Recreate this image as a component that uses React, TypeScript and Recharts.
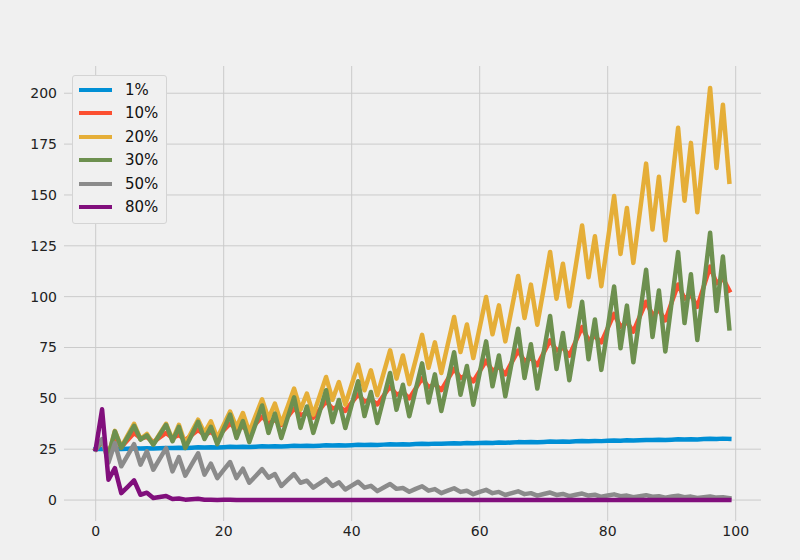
import { LineChart, Line, XAxis, YAxis, CartesianGrid } from "recharts";

// one value per step 0..99
const rate1 = [
  25.0, 25.17, 25.06, 25.23, 25.12, 25.24, 25.41, 25.3, 25.47, 25.36,
  25.48, 25.65, 25.54, 25.71, 25.6, 25.73, 25.9, 25.79, 25.96, 25.85,
  25.98, 26.15, 26.04, 26.21, 26.1, 26.23, 26.4, 26.29, 26.46, 26.35,
  26.48, 26.65, 26.54, 26.71, 26.6, 26.74, 26.91, 26.8, 26.97, 26.86,
  26.99, 27.16, 27.05, 27.22, 27.11, 27.25, 27.42, 27.31, 27.48, 27.37,
  27.51, 27.68, 27.57, 27.74, 27.63, 27.78, 27.95, 27.84, 28.01, 27.9,
  28.04, 28.21, 28.1, 28.27, 28.16, 28.31, 28.48, 28.37, 28.54, 28.43,
  28.58, 28.75, 28.64, 28.81, 28.7, 28.85, 29.02, 28.91, 29.08, 28.97,
  29.13, 29.3, 29.19, 29.36, 29.25, 29.41, 29.58, 29.47, 29.64, 29.53,
  29.69, 29.86, 29.75, 29.92, 29.81, 29.97, 30.14, 30.03, 30.2, 30.09,
];

const rate10 = [
  25.0, 28.5, 23.0, 31.0, 26.0, 29.5, 33.0, 30.5, 31.0, 28.5,
  30.8, 33.0, 30.5, 32.0, 29.5, 32.0, 34.5, 32.0, 33.5, 31.0,
  34.3, 37.5, 35.0, 36.0, 34.0, 37.5, 41.0, 38.0, 39.3, 37.0,
  41.0, 45.0, 41.8, 42.8, 40.5, 44.5, 48.5, 45.0, 46.0, 43.8,
  47.9, 52.0, 48.4, 49.5, 47.0, 51.4, 55.8, 51.8, 53.0, 50.0,
  54.9, 59.8, 55.5, 57.0, 54.0, 59.3, 64.5, 60.0, 61.5, 58.3,
  63.4, 68.5, 63.5, 65.5, 61.8, 67.7, 73.5, 68.3, 70.0, 66.3,
  72.4, 78.5, 73.5, 75.0, 71.0, 78.0, 85.0, 78.7, 80.5, 77.5,
  84.5, 91.5, 85.2, 87.5, 82.8, 90.2, 97.5, 91.0, 93.4, 88.3,
  97.2, 106.0, 99.0, 100.8, 95.0, 104.9, 114.8, 106.6, 109.0, 103.0,
];

const rate20 = [
  25.0, 29.5, 22.0, 34.0, 26.0, 31.8, 37.5, 30.0, 32.5, 27.5,
  32.5, 37.5, 29.5, 37.0, 27.5, 33.5, 39.5, 33.0, 38.7, 30.5,
  37.0, 43.5, 35.7, 42.8, 33.4, 41.5, 49.5, 40.0, 47.4, 37.5,
  46.0, 54.8, 44.4, 52.3, 42.0, 51.2, 60.5, 49.3, 58.0, 46.9,
  56.8, 66.6, 54.0, 63.8, 51.5, 62.5, 73.6, 59.7, 71.1, 57.0,
  69.0, 81.2, 65.0, 77.5, 62.5, 76.3, 90.0, 72.8, 86.3, 69.8,
  84.8, 99.8, 81.5, 95.7, 78.0, 94.0, 110.2, 89.5, 105.9, 86.2,
  104.0, 122.0, 99.0, 116.2, 95.2, 115.0, 135.0, 109.5, 129.7, 105.1,
  127.3, 149.5, 121.0, 143.6, 116.6, 141.0, 165.4, 133.0, 158.9, 127.7,
  155.3, 183.0, 147.2, 175.6, 141.5, 172.0, 202.6, 163.3, 194.4, 156.5,
];

const rate30 = [
  25.0, 29.0, 22.0, 33.8, 25.6, 31.0, 36.5, 29.7, 31.8, 27.2,
  32.1, 37.0, 28.9, 36.0, 25.6, 32.0, 38.5, 30.0, 36.0, 27.5,
  34.8, 42.0, 30.5, 38.8, 28.5, 37.5, 46.5, 33.0, 42.5, 30.5,
  40.5, 50.5, 35.5, 46.0, 33.0, 43.5, 54.0, 38.3, 49.2, 35.4,
  46.9, 58.4, 41.3, 53.1, 37.9, 50.2, 62.5, 44.4, 56.7, 41.2,
  54.2, 67.2, 48.0, 61.8, 43.8, 58.2, 72.7, 51.8, 65.9, 46.9,
  62.5, 78.0, 55.9, 71.1, 51.0, 67.6, 84.2, 60.0, 76.6, 54.8,
  72.6, 90.5, 64.4, 82.1, 58.9, 78.2, 97.5, 69.2, 88.8, 64.0,
  84.5, 105.0, 74.6, 95.6, 67.7, 90.5, 113.2, 80.2, 103.0, 73.0,
  97.5, 121.9, 87.0, 111.0, 78.7, 105.0, 131.4, 93.0, 119.7, 84.4,
];

const rate50 = [
  25.0, 30.0, 18.4, 28.0, 16.6, 22.0, 27.5, 17.4, 24.0, 14.9,
  20.2, 25.5, 14.1, 21.1, 12.0, 17.5, 23.0, 12.5, 17.9, 10.8,
  14.8, 18.7, 10.8, 15.4, 8.5, 11.8, 15.2, 11.0, 12.8, 6.9,
  9.9, 12.8, 8.5, 9.5, 6.1, 8.2, 10.3, 6.9, 8.7, 5.2,
  7.1, 9.0, 6.1, 7.0, 4.4, 6.2, 7.9, 5.5, 5.9, 4.1,
  5.5, 6.8, 4.6, 5.4, 3.4, 4.6, 5.8, 4.0, 4.6, 2.9,
  4.0, 5.0, 3.4, 4.0, 2.5, 3.4, 4.3, 2.9, 3.4, 2.2,
  3.0, 3.7, 2.5, 3.0, 1.9, 2.6, 3.2, 2.2, 2.6, 1.6,
  2.2, 2.8, 1.9, 2.2, 1.4, 1.9, 2.4, 1.6, 1.9, 1.2,
  1.7, 2.1, 1.4, 1.7, 1.0, 1.4, 1.8, 1.2, 1.4, 0.9,
];

const rate80 = [
  25.0, 44.6, 10.0, 15.7, 3.4, 6.5, 9.7, 2.6, 3.6, 1.0,
  1.5, 2.0, 0.5, 0.8, 0.2, 0.4, 0.6, 0.15, 0.2, 0.05,
  0.1, 0.15, 0.04, 0.05, 0.01, 0.02, 0.03, 0.01, 0.01, 0.0,
  0.0, 0.0, 0.0, 0.0, 0.0, 0.0, 0.0, 0.0, 0.0, 0.0,
  0.0, 0.0, 0.0, 0.0, 0.0, 0.0, 0.0, 0.0, 0.0, 0.0,
  0.0, 0.0, 0.0, 0.0, 0.0, 0.0, 0.0, 0.0, 0.0, 0.0,
  0.0, 0.0, 0.0, 0.0, 0.0, 0.0, 0.0, 0.0, 0.0, 0.0,
  0.0, 0.0, 0.0, 0.0, 0.0, 0.0, 0.0, 0.0, 0.0, 0.0,
  0.0, 0.0, 0.0, 0.0, 0.0, 0.0, 0.0, 0.0, 0.0, 0.0,
  0.0, 0.0, 0.0, 0.0, 0.0, 0.0, 0.0, 0.0, 0.0, 0.0,
];

const xTicks = [0, 20, 40, 60, 80, 100];
const yTicks = [0, 25, 50, 75, 100, 125, 150, 175, 200];

const series = [
  { key: "r1", name: "1%", color: "#008fd5", values: rate1 },
  { key: "r10", name: "10%", color: "#fc4f30", values: rate10 },
  { key: "r20", name: "20%", color: "#e5ae38", values: rate20 },
  { key: "r30", name: "30%", color: "#6d904f", values: rate30 },
  { key: "r50", name: "50%", color: "#8b8b8b", values: rate50 },
  { key: "r80", name: "80%", color: "#810f7c", values: rate80 },
];

const data = rate1.map((_, i) => {
  const row: Record<string, number> = { step: i };
  series.forEach((s) => (row[s.key] = s.values[i]));
  return row;
});

const font = "'DejaVu Sans', sans-serif";
const tickStyle = { fontSize: 14, fill: "#222", fontFamily: font };

function LegendBox() {
  return (
    <div
      style={{
        position: "absolute",
        top: 75,
        left: 72,
        border: "1px solid #d4d4d4",
        borderRadius: 3,
        background: "#f0f0f0",
        padding: "2px 8px 4px 6px",
        fontFamily: font,
        fontSize: 15,
        color: "#111",
      }}
    >
      {series.map((s) => (
        <div key={s.key} style={{ display: "flex", alignItems: "center", height: 23.5 }}>
          <span style={{ width: 33, height: 4, background: s.color, marginRight: 13 }} />
          <span>{s.name}</span>
        </div>
      ))}
    </div>
  );
}

export default function App() {
  return (
    <div style={{ position: "relative", width: 800, height: 560, background: "#f0f0f0" }}>
      <style>{"body{margin:0}"}</style>
      <LineChart
        width={800}
        height={560}
        data={data}
        margin={{ top: 66, right: 39, bottom: 9, left: 0 }}
      >
        <CartesianGrid
          stroke="#cbcbcb"
          strokeWidth={1}
          horizontalValues={yTicks}
          verticalValues={xTicks}
        />
        <XAxis
          dataKey="step"
          type="number"
          domain={[-4.95, 103.95]}
          ticks={xTicks}
          allowDataOverflow
          axisLine={false}
          tickLine={false}
          tickSize={0}
          tickMargin={5}
          height={30}
          tick={tickStyle}
        />
        <YAxis
          type="number"
          domain={[-10.3, 213.4]}
          ticks={yTicks}
          allowDataOverflow
          axisLine={false}
          tickLine={false}
          tickSize={0}
          tickMargin={7}
          width={64}
          tick={tickStyle}
        />
        {series.map((s) => (
          <Line
            key={s.key}
            type="linear"
            dataKey={s.key}
            name={s.name}
            stroke={s.color}
            strokeWidth={4.5}
            strokeLinejoin="round"
            strokeLinecap="square"
            dot={false}
            activeDot={false}
            isAnimationActive={false}
          />
        ))}
      </LineChart>
      <LegendBox />
    </div>
  );
}
